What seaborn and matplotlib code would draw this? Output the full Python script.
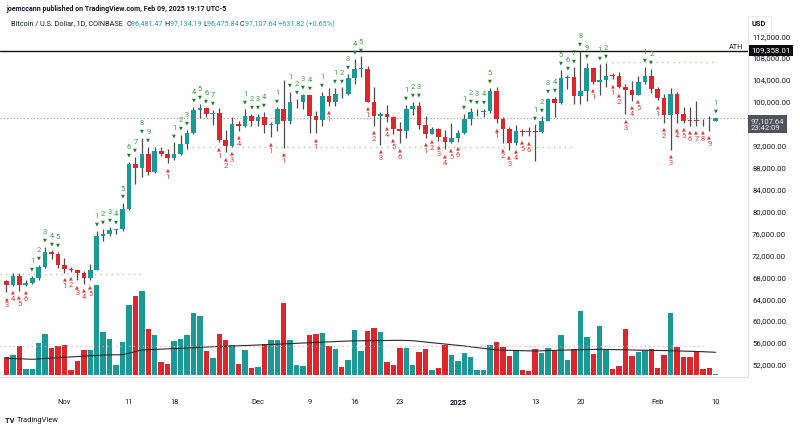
import pandas as pd
import seaborn as sns
import matplotlib.pyplot as plt
import matplotlib.dates as mdates
from matplotlib.transforms import blended_transform_factory

# daily bars, Oct 23 2024 .. Feb 10 2025 (COINBASE BTCUSD)
dates = pd.date_range("2024-10-23", "2025-02-10", freq="D")

opens = [67400, 66650, 68200, 66600, 67000, 67900, 69900, 72700, 72300,
         70200, 69500, 69300, 68700, 67800, 69350, 75600, 75900, 76550, 76800,
         80450, 88700, 87950, 90550, 87250, 91050, 90550, 89850, 90550, 92350,
         94350, 98500, 98950, 97750, 98000, 93100, 91950, 95950, 95650, 97450,
         96450, 97250, 95850, 96000, 98750, 96600, 99900, 99920, 101250, 97400,
         96650, 101150, 100050, 101450, 101400, 104300, 106050, 106100, 100050, 97450,
         97750, 97250, 95100, 94700, 98650, 99300, 95800, 94150, 95150, 93550,
         92650, 93400, 94400, 96900, 98100, 98250, 98350, 102050, 96950, 95050,
         92500, 94700, 94550, 94520, 94500, 96550, 100500, 99750, 104450, 104500,
         101100, 102050, 106150, 103650, 103950, 104800, 104700, 102650, 102100, 101350,
         103700, 104750, 102400, 100650, 97700, 101400, 97850, 96600, 96550, 96530,
         96480, 96481]
highs = [67450, 68800, 68800, 67450, 68200, 70200, 73600, 72900, 72700,
         71600, 69900, 69400, 69200, 70500, 76450, 76900, 77200, 76900, 81500,
         89000, 89950, 93450, 91800, 91850, 91700, 91500, 92600, 94000, 94850,
         99050, 99600, 99000, 98600, 98900, 94900, 97300, 96600, 98700, 97800,
         97850, 98150, 96300, 99000, 104000, 101900, 100550, 101400, 101250, 98300,
         101900, 102500, 102600, 102650, 105100, 107800, 108300, 106500, 102800, 98100,
         99500, 97400, 96400, 99450, 99950, 99950, 97450, 95500, 95200, 94900,
         96150, 94950, 97800, 98950, 98750, 98800, 102500, 102700, 97250, 95350,
         95850, 95000, 95350, 95900, 97350, 100700, 100850, 105900, 104950, 106300,
         109358, 107050, 106300, 106850, 107100, 105300, 105500, 103250, 103800, 104800,
         106450, 106100, 102800, 101500, 102500, 101750, 99000, 99150, 100150, 96850,
         97350, 97134]
lows = [65300, 66500, 65500, 66450, 66800, 67500, 69700, 71400, 69700,
        68800, 69000, 67500, 66800, 67450, 69300, 74600, 75600, 75900, 76500,
        80250, 85100, 86250, 86700, 87100, 90100, 88800, 89400, 90350, 91500,
        94100, 97150, 97250, 95750, 92650, 90800, 91850, 94700, 95400, 95700,
        95700, 94400, 93550, 94650, 91600, 95950, 98950, 98800, 94300, 94300,
        95700, 99350, 99250, 100650, 101250, 103300, 104600, 100000, 95650, 92200,
        96400, 94200, 92450, 93400, 97600, 95150, 93450, 94100, 92900, 91350,
        92450, 92750, 94200, 95750, 97500, 97300, 97900, 96150, 92500, 91200,
        92200, 93850, 93700, 89250, 94300, 96500, 97300, 99700, 102300, 99600,
        99550, 100100, 103350, 101250, 102750, 104100, 102500, 97750, 100250, 101300,
        103300, 101550, 100300, 96200, 91250, 96150, 96200, 95650, 95650, 95700,
        94700, 96476]
closes = [66650, 68200, 66600, 67000, 67900, 69900, 72700, 72300, 70200,
          69500, 69300, 68700, 67800, 69350, 75600, 75900, 76550, 76800, 80450,
          88700, 87950, 90550, 87250, 91050, 90550, 89850, 90550, 92350, 94350,
          98500, 98950, 97750, 98000, 93100, 91950, 95950, 95650, 97450, 96450,
          97250, 95850, 96000, 98750, 96600, 99900, 99920, 101250, 97400, 96650,
          101150, 100050, 101450, 101400, 104300, 106050, 106100, 100050, 97450, 97750,
          97250, 95100, 94700, 98650, 99300, 95800, 94150, 95150, 93550, 92650,
          93400, 94400, 96900, 98100, 98250, 98350, 102050, 96950, 95050, 92500,
          94700, 94550, 94500, 94500, 96550, 100500, 99750, 104450, 104500, 101100,
          102050, 106150, 103650, 103950, 104800, 104700, 102650, 102100, 101350, 103700,
          104750, 102400, 100650, 97700, 101400, 97850, 96600, 96550, 96530, 96480,
          96476, 97108]
volumes = [17.7, 19.7, 29, 5.7, 5.7, 32.3, 41, 26.7, 29.3,
           30.3, 5, 13.7, 24.7, 25.3, 90, 43.3, 36, 9.7, 33,
           70.3, 79.3, 83.7, 45.7, 40, 13.3, 11, 34.3, 36, 40,
           61.7, 59.3, 24.3, 17, 41, 35.3, 30, 11, 25, 7,
           8, 30.7, 35.3, 35, 72, 35, 9.7, 8.7, 39.7, 40.7,
           42, 29.3, 26.3, 8.3, 15.3, 45, 24, 44.3, 46.7, 43,
           13, 10, 26.7, 26.7, 10, 22.7, 26, 5.3, 6.7, 30.3,
           20.3, 13.7, 21.7, 17.7, 5.3, 5, 30, 33, 28, 19.3,
           25.3, 5.3, 4.3, 25.7, 22.3, 26.7, 24, 40, 15, 26,
           64, 37.7, 21, 49.3, 25.3, 6.3, 9, 46.3, 19, 22.7,
           25.3, 26, 6.7, 20.3, 61.7, 28, 18.3, 18, 23.7, 6,
           6.7, 1]
# TD sequential setup counts: >0 sell count (green, above), <0 buy count (red, below)
td_counts = [-3, -4, -5, -6, 1, 2, 3, 4, 5,
             -1, -2, -3, -4, -5, 1, 2, 3, 4, 5,
             6, 7, 8, 9, 0, 0, -1, 1, 2, 3,
             4, 5, 6, 7, -1, -2, -3, -4, 1, 2,
             3, 4, -1, 1, -1, 1, 2, 3, 4, -1,
             1, -1, 1, 2, 3, 4, 5, -1, -2, -3,
             -4, -5, -6, 1, 2, 3, -1, -2, -3, -4,
             -5, -6, 1, 2, 3, 4, 5, -1, -2, -3,
             -4, -5, -6, 1, 2, 3, 4, 5, 6, 7,
             8, 9, -1, 1, 2, -1, -2, -3, -4, -5,
             1, 2, -1, -2, -3, -4, -5, -6, -7, -8,
             -9, 1]
# volume moving average, read at a few dates
ma_dates = ["2024-10-23", "2024-10-27", "2024-11-01", "2024-11-07", "2024-11-10",
            "2024-11-13", "2024-11-19", "2024-11-24", "2024-11-30", "2024-12-07",
            "2024-12-15", "2024-12-23", "2024-12-25", "2024-12-28", "2025-01-02",
            "2025-01-07", "2025-01-13", "2025-01-18", "2025-01-23", "2025-01-28",
            "2025-02-03", "2025-02-08", "2025-02-10"]
ma_values = [16.7, 15.7, 17.7, 20, 20.3, 25, 26.7, 28.3, 29.7, 31.7,
             34, 34.7, 34.3, 32.3, 29, 25, 24, 25, 25.7, 25,
             24.3, 23.3, 22.7]

# 96,000 sits under the last-price tag, so it is not labelled
price_ticks = [52000, 56000, 60000, 64000, 68000, 72000, 76000, 80000,
               84000, 88000, 92000, 100000, 104000, 108000, 112000]
tick_dates = ["2024-11-01", "2024-11-11", "2024-11-18", "2024-12-01", "2024-12-09",
              "2024-12-16", "2024-12-23", "2025-01-01", "2025-01-13", "2025-01-20",
              "2025-02-01", "2025-02-10"]
tick_labels = ["Nov", "11", "18", "Dec", "9", "16", "23", "2025", "13", "20", "Feb", "10"]

ath = 109358.01
last_price = 97107.64
tdst_levels = [68600, 91780, 107230]
tdst_spans = [("2024-10-22", "2024-11-13"), ("2024-11-19", "2025-01-19"),
              ("2025-01-24", "2025-02-10")]

UP, DOWN = "#1a9a96", "#e0262d"
WICK = "#4d4d4d"
TXT = "#131722"

sns.set_theme(style="white")
plt.rcParams["font.family"] = ["Roboto", "DejaVu Sans"]

W, H = 800, 430
fig = plt.figure(figsize=(8, 4.3), dpi=100)
ax = fig.add_axes([0, 1 - 377 / H, 748 / W, (377 - 16) / H])
vax = ax.twinx()
ax.set_zorder(vax.get_zorder() + 1)
ax.patch.set_visible(False)

df = pd.DataFrame({"date": dates, "open": opens, "high": highs, "low": lows,
                   "close": closes, "volume": volumes, "td": td_counts})
df["x"] = mdates.date2num(df["date"])
df["up"] = df["close"] >= df["open"]
colors = [UP if u else DOWN for u in df["up"]]

# volume pane
vax.bar(df["x"], df["volume"], width=0.84, color=colors, linewidth=0)
ma_x = mdates.date2num(pd.to_datetime(ma_dates))
sns.lineplot(x=ma_x, y=ma_values, ax=vax, color="#2a2a2a", linewidth=0.8)
x0, x1 = df["x"].iloc[0] - 1.0, df["x"].iloc[0] + 115.0
vax.hlines(29.3, x0, df["x"].iloc[-3], color="#f3a3a6", linewidth=0.8,
           linestyles=(0, (1, 3)))
vax.set_ylim(-2, 359)
vax.set_yticks([])
vax.set_ylabel("")

# candles
body_lo = df[["open", "close"]].min(axis=1)
body_h = (df["close"] - df["open"]).abs().clip(lower=130)
ax.vlines(df["x"], df["low"], df["high"], color=WICK, linewidth=0.9, zorder=2)
ax.bar(df["x"], body_h, bottom=body_lo, width=0.72, color=colors, linewidth=0, zorder=3)

# horizontal levels
ax.axhline(ath, color="#111111", linewidth=1.0, zorder=1)
ax.axhline(last_price, color="#9598a1", linewidth=0.8, linestyle=(0, (1, 2)), zorder=1)
for lvl, (a, b) in zip(tdst_levels, tdst_spans):
    ax.hlines(lvl, mdates.date2num(pd.Timestamp(a)), mdates.date2num(pd.Timestamp(b)),
              color="#a5d6a7", linewidth=1.0, linestyles=(0, (1, 3)), zorder=1)

# TD sequential labels
for x, hi, lo, n in zip(df["x"], df["high"], df["low"], df["td"]):
    if n > 0:
        ax.annotate("\u25bc", (x, hi), xytext=(0, 5), textcoords="offset points",
                    ha="center", va="center", fontsize=3.6, color="#1f7a2e",
                    family="DejaVu Sans", zorder=4)
        ax.annotate(str(n), (x, hi), xytext=(0, 10.3), textcoords="offset points",
                    ha="center", va="center", fontsize=5.4, color="#3a9a45", zorder=4)
    elif n < 0:
        ax.annotate("\u25b2", (x, lo), xytext=(0, -4.6), textcoords="offset points",
                    ha="center", va="center", fontsize=3.6, color="#e53935",
                    family="DejaVu Sans", zorder=4)
        ax.annotate(str(-n), (x, lo), xytext=(0, -10), textcoords="offset points",
                    ha="center", va="center", fontsize=5.4, color="#e53935", zorder=4)

ax.set_xlim(x0, x1)
ax.set_ylim(49807, 115682)

ax.yaxis.tick_right()
ax.set_yticks(price_ticks)
ax.set_yticklabels([f"{p:,.2f}" for p in price_ticks])
ax.tick_params(axis="y", length=0, pad=3, labelsize=5.6, labelcolor=TXT)
ax.set_xticks(mdates.date2num(pd.to_datetime(tick_dates)))
ax.set_xticklabels(tick_labels)
ax.tick_params(axis="x", length=0, pad=16, labelsize=5.4, labelcolor=TXT)
for lab in ax.get_xticklabels():
    if lab.get_text() == "2025":
        lab.set_fontweight("bold")
for a in (ax, vax):
    for s in ("top", "left"):
        a.spines[s].set_visible(False)
    a.spines["bottom"].set_color("#e0e3eb")
    a.spines["right"].set_color("#e0e3eb")
    a.spines["bottom"].set_linewidth(0.8)
    a.spines["right"].set_linewidth(0.8)

# price-axis tags
tr = blended_transform_factory(ax.transAxes, ax.transData)
ax.text(0.993, ath, "ATH", transform=tr, ha="right", va="bottom", fontsize=5.2,
        color=TXT, zorder=5)
ax.text(1.004, ath, f"{ath:,.2f}", transform=tr, ha="left", va="center", fontsize=5.7,
        color="white", zorder=6,
        bbox=dict(boxstyle="square,pad=0.3", fc="#0b0b0b", ec="none"))
ax.text(1.004, last_price, f"{last_price:,.2f}\n23:42:09", transform=tr, ha="left",
        va="top", fontsize=5.5, color="#eeeeee", linespacing=1.15, zorder=6,
        bbox=dict(boxstyle="square,pad=0.35", fc="#4f535e", ec="none"))
fig.text(752 / W, 1 - 24 / H, "USD", fontsize=5.4, color=TXT, va="center",
         fontweight="bold",
         bbox=dict(boxstyle="square,pad=0.6", fc="white", ec="#e8e8e8", lw=0.5))


def put_parts(parts, x, y, size):
    r = fig.canvas.get_renderer()
    for s, col, w in parts:
        t = fig.text(x / W, 1 - y / H, s, color=col, fontsize=size, fontweight=w,
                     va="center", ha="left")
        x += t.get_window_extent(renderer=r).width


put_parts([("joemccann published on TradingView.com, Feb 09, 2025 19:17 UTC-5",
            TXT, "bold")], 6, 9, 5.0)
GREEN_T = "#21a29a"
put_parts([("Bitcoin / U.S. Dollar, 1D, COINBASE  ", TXT, "normal"),
           ("O", TXT, "normal"), ("96,481.47 ", GREEN_T, "normal"),
           ("H", TXT, "normal"), ("97,134.19 ", GREEN_T, "normal"),
           ("L", TXT, "normal"), ("96,475.84 ", GREEN_T, "normal"),
           ("C", TXT, "normal"), ("97,107.64 ", GREEN_T, "normal"),
           ("+631.82 (+0.65%)", GREEN_T, "normal")], 11, 24, 5.2)
put_parts([("TV ", TXT, "bold"), ("TradingView", TXT, "normal")], 5, 421, 5.4)

fig.savefig("out.png", dpi=100, facecolor="white")
